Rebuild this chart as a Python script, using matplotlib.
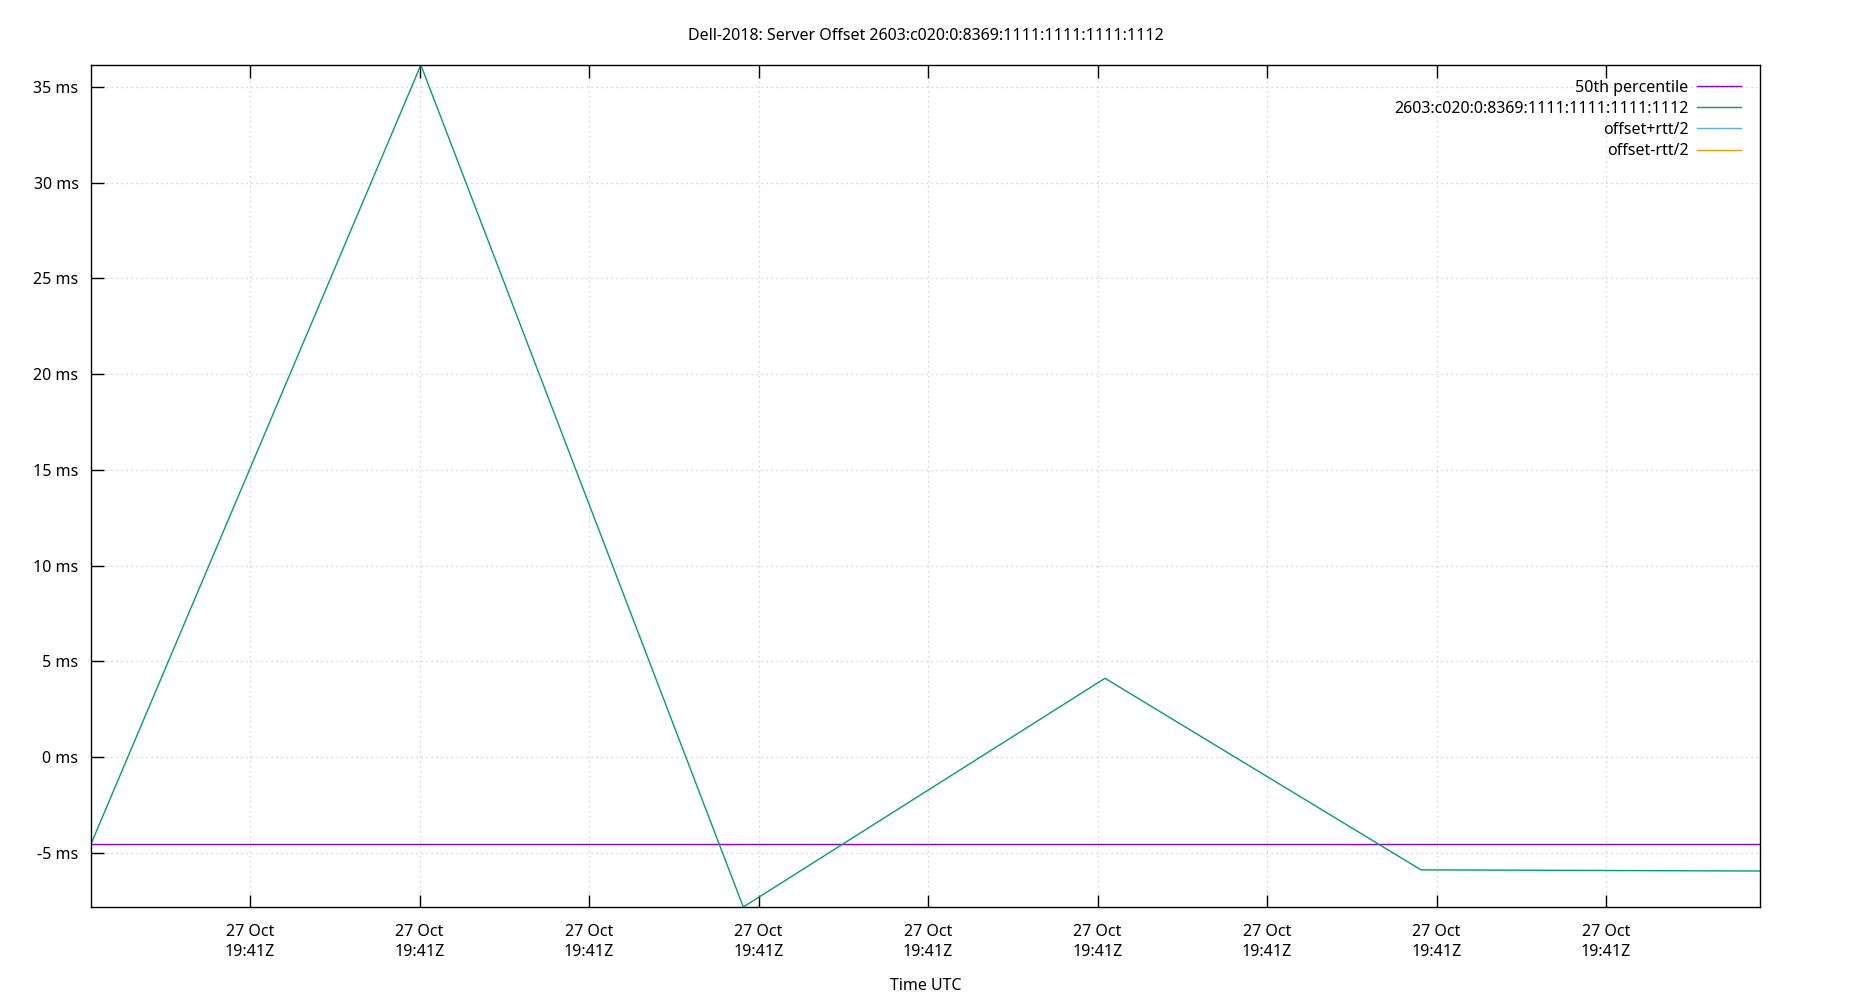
import matplotlib
matplotlib.use("Agg")
import matplotlib.pyplot as plt
from matplotlib.ticker import FixedLocator

plt.rcParams['font.family'] = ['Noto Sans', 'DejaVu Sans']

# data (seconds after 19:41:00Z, offset in ms)
time_s = [0.31, 10.04, 19.55, 30.22, 39.54, 49.54]
offset_ms = [-4.55, 36.15, -7.84, 4.11, -5.90, -5.96]
median_ms = -4.55
plus_rtt = []   # offset+rtt/2 (no visible data)
minus_rtt = []  # offset-rtt/2 (no visible data)

x_ticks = [5, 10, 15, 20, 25, 30, 35, 40, 45]
x_tick_labels = ["27 Oct\n19:41Z"] * len(x_ticks)
y_ticks = [-5, 0, 5, 10, 15, 20, 25, 30, 35]

title = "Dell-2018: Server Offset 2603:c020:0:8369:1111:1111:1111:1112"
series_name = "2603:c020:0:8369:1111:1111:1111:1112"

FS = 11.5

fig = plt.figure(figsize=(18.5, 10), dpi=100)
ax = fig.add_axes([91/1850, 93/1000, (1760-91)/1850, (907-65)/1000])

ax.plot([time_s[0], time_s[-1]], [median_ms, median_ms], color="#9400d3", lw=1.0, label="50th percentile")
ax.plot(time_s, offset_ms, color="#009e73", lw=1.0, label=series_name)
ax.plot([t for t, _ in plus_rtt], [v for _, v in plus_rtt], color="#56b4e9", lw=1.0, label="offset+rtt/2")
ax.plot([t for t, _ in minus_rtt], [v for _, v in minus_rtt], color="#e69f00", lw=1.0, label="offset-rtt/2")

ax.set_xlim(time_s[0], time_s[-1])
ax.set_ylim(min(offset_ms), max(offset_ms))

ax.xaxis.set_major_locator(FixedLocator(x_ticks))
ax.set_xticklabels(x_tick_labels, fontsize=FS, linespacing=1.35)
ax.yaxis.set_major_locator(FixedLocator(y_ticks))
ax.set_yticklabels([f"{v} ms" for v in y_ticks], fontsize=FS)

ax.tick_params(axis="x", direction="in", length=9, width=1, top=True, bottom=True, pad=12)
ax.tick_params(axis="y", direction="in", length=9, width=1, left=True, right=False, pad=9)
for s in ax.spines.values():
    s.set_linewidth(1.0)
    s.set_color("black")

ax.grid(True, color="#c8c8c8", linestyle=(0, (1, 3)), linewidth=0.9)
ax.set_axisbelow(True)

ax.set_title(title, fontsize=FS, pad=18)
ax.set_xlabel("Time UTC", fontsize=FS, labelpad=13)

leg = ax.legend(loc="upper right", markerfirst=False, frameon=False, fontsize=FS,
                handlelength=2.75, handletextpad=0.55, labelspacing=0.33,
                borderaxespad=0.0, borderpad=0.0,
                bbox_to_anchor=(1 - 19/1669, 1 - 14.5/842))

fig.savefig("out.png", dpi=100)
